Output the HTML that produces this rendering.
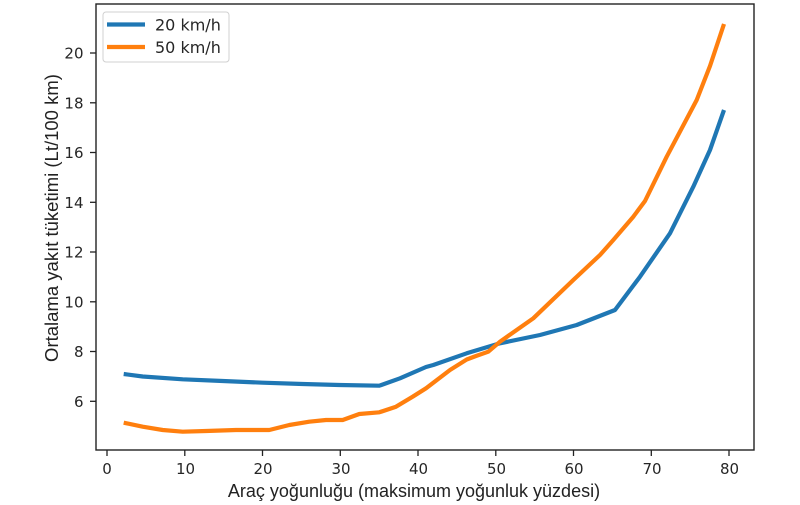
<!DOCTYPE html>
<html><head><meta charset="utf-8"><style>
html,body{margin:0;padding:0;background:#fff;}
svg{display:block;}
text{font-family:"DejaVu Sans","Liberation Sans",sans-serif;fill:#262626;}
text.lab{font-family:"Liberation Sans","DejaVu Sans",sans-serif;fill:#222;}
</style></head><body>
<svg width="800" height="505" viewBox="0 0 800 505" xmlns="http://www.w3.org/2000/svg">
<rect width="800" height="505" fill="#fff"/>
<!-- series -->
<polyline fill="none" stroke="#1f77b4" stroke-width="4.2" stroke-linejoin="round" stroke-linecap="butt"
points="123.7,374 142.7,376.5 182.7,379.3 222.7,381 262.7,382.7 302.7,384 339.3,385 379.3,385.7 400,378.3 426,367 433.3,365 466.7,353.3 500,343.3 540,335 576.7,325 615,310 640,276.7 670,233.3 693.3,186.7 710,150 724,110"/>
<polyline fill="none" stroke="#ff7f0e" stroke-width="4.2" stroke-linejoin="round" stroke-linecap="butt"
points="123.7,422.7 142.7,426.7 162.7,430 182.7,431.7 206,431 236,430 269.3,430 289.3,425 309.3,421.7 326,420 342.7,420 359.3,414 379.3,412.3 396,406.7 412.7,396.7 426,388.3 450,370 466.7,359.5 476,356 488.3,351.7 500,341.7 533.3,318.3 573.3,280 600,255 613.3,240 633.3,216.7 645,201 666.7,156.7 696.7,100 710,66 724,24"/>
<!-- axes frame -->
<rect x="96" y="4" width="658" height="446" fill="none" stroke="#222" stroke-width="1.4"/>
<!-- y ticks -->
<g stroke="#222" stroke-width="1.3">
<line x1="90" y1="401.3" x2="96" y2="401.3"/>
<line x1="90" y1="351.5" x2="96" y2="351.5"/>
<line x1="90" y1="301.8" x2="96" y2="301.8"/>
<line x1="90" y1="252" x2="96" y2="252"/>
<line x1="90" y1="202.3" x2="96" y2="202.3"/>
<line x1="90" y1="152.5" x2="96" y2="152.5"/>
<line x1="90" y1="102.8" x2="96" y2="102.8"/>
<line x1="90" y1="53" x2="96" y2="53"/>
</g>
<g font-size="15" text-anchor="end">
<text x="83.5" y="406.8">6</text>
<text x="83.5" y="357">8</text>
<text x="83.5" y="307.3">10</text>
<text x="83.5" y="257.5">12</text>
<text x="83.5" y="207.8">14</text>
<text x="83.5" y="158">16</text>
<text x="83.5" y="108.3">18</text>
<text x="83.5" y="58.5">20</text>
</g>
<!-- x ticks -->
<g stroke="#222" stroke-width="1.3">
<line x1="107" y1="450" x2="107" y2="456"/>
<line x1="184.8" y1="450" x2="184.8" y2="456"/>
<line x1="262.5" y1="450" x2="262.5" y2="456"/>
<line x1="340.3" y1="450" x2="340.3" y2="456"/>
<line x1="418" y1="450" x2="418" y2="456"/>
<line x1="495.8" y1="450" x2="495.8" y2="456"/>
<line x1="573.5" y1="450" x2="573.5" y2="456"/>
<line x1="651.3" y1="450" x2="651.3" y2="456"/>
<line x1="729" y1="450" x2="729" y2="456"/>
</g>
<g font-size="15" text-anchor="middle">
<text x="107" y="474">0</text>
<text x="185.5" y="474">10</text>
<text x="263" y="474">20</text>
<text x="341" y="474">30</text>
<text x="418.5" y="474">40</text>
<text x="496.5" y="474">50</text>
<text x="574" y="474">60</text>
<text x="652" y="474">70</text>
<text x="729.5" y="474">80</text>
</g>
<!-- axis labels -->
<text class="lab" x="414" y="497" font-size="18" text-anchor="middle">Araç yoğunluğu (maksimum yoğunluk yüzdesi)</text>
<text class="lab" transform="translate(58,218) rotate(-90)" font-size="18.5" text-anchor="middle">Ortalama yakıt tüketimi (Lt/100 km)</text>
<!-- legend -->
<rect x="103" y="12" width="126" height="50" rx="3" ry="3" fill="#fff" fill-opacity="0.8" stroke="#d0d0d0" stroke-width="1"/>
<line x1="107" y1="24.5" x2="145" y2="24.5" stroke="#1f77b4" stroke-width="4.2"/>
<line x1="107" y1="47" x2="145" y2="47" stroke="#ff7f0e" stroke-width="4.2"/>
<text x="155" y="30.5" font-size="16">20 km/h</text>
<text x="155" y="53" font-size="16">50 km/h</text>
</svg>
</body></html>
